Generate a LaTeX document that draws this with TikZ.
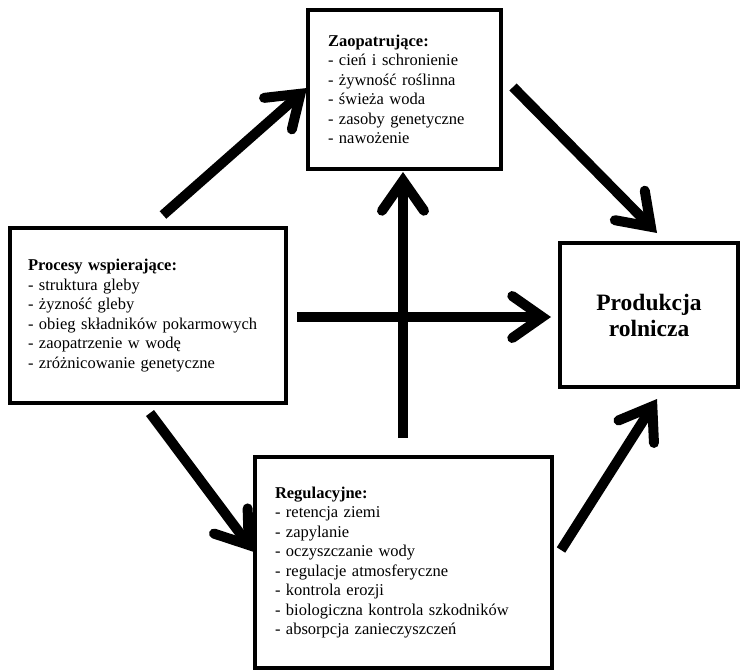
\documentclass[tikz,border=0pt]{standalone}
\usepackage{fontspec}
\setmainfont{Liberation Serif}
\usetikzlibrary{arrows.meta}
\tikzset{
  box/.style={draw, line width=3.8pt, rectangle, inner ysep=0pt, align=left,
    font=\fontsize{16.5pt}{19.5pt}\selectfont},
  arr/.style={line width=10pt, -{Straight Barb[length=30pt, width=42pt, line cap=round, line join=miter]}}
}
\begin{document}
\begin{tikzpicture}[x=1pt, y=-1pt]
\useasboundingbox (0,0) rectangle (742,670);
\node[box, minimum width=193pt, minimum height=159pt, inner xsep=20pt, text width=153pt] (zao) at (404.5,89.5)
 {\textbf{Zaopatrujące:}\\- cień i schronienie\\- żywność roślinna\\- świeża woda\\- zasoby genetyczne\\- nawożenie};
\node[box, minimum width=276pt, minimum height=175pt, inner xsep=18pt, text width=240pt] (proc) at (148,315.5)
 {\textbf{Procesy wspierające:}\\- struktura gleby\\- żyzność gleby\\- obieg składników pokarmowych\\- zaopatrzenie w wodę\\- zróżnicowanie genetyczne};
\node[box, minimum width=297pt, minimum height=211pt, inner xsep=20pt, text width=257pt] (reg) at (403.5,562.5)
 {\textbf{Regulacyjne:}\\- retencja ziemi\\- zapylanie\\- oczyszczanie wody\\- regulacje atmosferyczne\\- kontrola erozji\\- biologiczna kontrola szkodników\\- absorpcja zanieczyszczeń};
\node[box, minimum width=178pt, minimum height=144pt, align=center, font=\fontsize{23.5pt}{26pt}\selectfont\bfseries] (prod) at (649,315)
 {Produkcja\\rolnicza};
\coordinate (a1s) at (163,215); \coordinate (a1e) at (307,88);
\coordinate (a2s) at (513,87);  \coordinate (a2e) at (657,233);
\coordinate (a3s) at (297,317); \coordinate (a3e) at (551,317);
\coordinate (a4s) at (403,438); \coordinate (a4e) at (403,172);
\coordinate (a5s) at (150,413); \coordinate (a5e) at (254,552);
\coordinate (a6s) at (561,550); \coordinate (a6e) at (657,399);
\draw[arr] (a4s) -- (a4e);
\draw[arr] (a3s) -- (a3e);
\draw[arr] (a1s) -- (a1e);
\draw[arr] (a2s) -- (a2e);
\draw[arr] (a5s) -- (a5e);
\draw[arr] (a6s) -- (a6e);
\end{tikzpicture}
\end{document}
